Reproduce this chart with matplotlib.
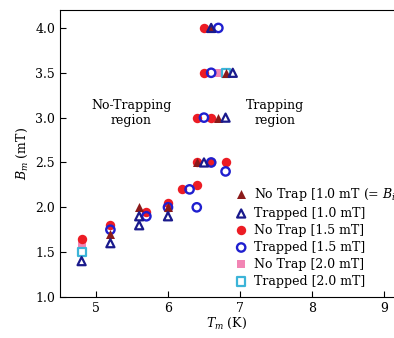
import matplotlib
matplotlib.use("Agg")
import matplotlib.pyplot as plt

plt.rcParams['font.family'] = 'DejaVu Serif'
plt.rcParams['mathtext.fontset'] = 'dejavuserif'

# No Trap [1.0 mT]
nt10_T = [6.6, 6.8, 6.7, 6.4, 5.6, 6.0, 5.2]
nt10_B = [4.0, 3.5, 3.0, 2.5, 2.0, 2.0, 1.7]
# Trapped [1.0 mT]
tr10_T = [6.6, 6.9, 6.8, 6.5, 5.6, 5.6, 6.0, 5.2, 4.8]
tr10_B = [4.0, 3.5, 3.0, 2.5, 1.9, 1.8, 1.9, 1.6, 1.4]
# No Trap [1.5 mT]
nt15_T = [6.5, 6.5, 6.4, 6.6, 6.4, 6.6, 6.8, 6.4, 6.2, 5.7, 6.0, 5.2, 4.8]
nt15_B = [4.0, 3.5, 3.0, 3.0, 2.5, 2.5, 2.5, 2.25, 2.2, 1.95, 2.05, 1.8, 1.65]
# Trapped [1.5 mT]
tr15_T = [6.7, 6.6, 6.5, 6.6, 6.8, 6.3, 6.4, 5.7, 6.0, 5.2]
tr15_B = [4.0, 3.5, 3.0, 2.5, 2.4, 2.2, 2.0, 1.9, 2.0, 1.75]
# No Trap [2.0 mT]
nt20_T = [6.7, 4.8]
nt20_B = [3.5, 1.6]
# Trapped [2.0 mT]
tr20_T = [6.8, 4.8]
tr20_B = [3.5, 1.5]

fig = plt.figure(figsize=(3.94, 3.38), dpi=100)
ax = fig.add_axes([0.1523, 0.1213, 0.8477, 0.8491])

ax.scatter(nt20_T, nt20_B, marker='s', s=40, color='#f285b4', linewidths=0, label='No Trap [2.0 mT]', zorder=2)
ax.scatter(tr20_T, tr20_B, marker='s', s=34, facecolors='none', edgecolors='#3cb4d8', linewidths=1.6, label='Trapped [2.0 mT]', zorder=2)
ax.scatter(nt15_T, nt15_B, marker='o', s=46, color='#ec1c24', linewidths=0, label='No Trap [1.5 mT]', zorder=3)
ax.scatter(tr15_T, tr15_B, marker='o', s=36, facecolors='none', edgecolors='#1f1fcf', linewidths=1.7, label='Trapped [1.5 mT]', zorder=4)
ax.scatter(nt10_T, nt10_B, marker='^', s=42, color='#8b1a1a', linewidths=0, label='No Trap [1.0 mT (= $B_i$)]', zorder=5)
ax.scatter(tr10_T, tr10_B, marker='^', s=34, facecolors='none', edgecolors='#1a1a8c', linewidths=1.6, label='Trapped [1.0 mT]', zorder=5)

ax.text(5.49, 3.05, 'No-Trapping\nregion', ha='center', va='center', fontsize=9, linespacing=1.15)
ax.text(7.49, 3.05, 'Trapping\nregion', ha='center', va='center', fontsize=9, linespacing=1.15)

ax.set_xlim(4.5, 9.14)
ax.set_ylim(1.0, 4.2)
ax.set_xticks([5, 6, 7, 8, 9])
ax.set_yticks([1.0, 1.5, 2.0, 2.5, 3.0, 3.5, 4.0])
ax.set_yticklabels(['1.0', '1.5', '2.0', '2.5', '3.0', '3.5', '4.0'])
ax.tick_params(direction='in', length=4, labelsize=9, width=0.8)
ax.spines['right'].set_visible(False)
ax.set_xlabel('$T_m$ (K)', fontsize=9, labelpad=1)
ax.set_ylabel('$B_m$ (mT)', fontsize=9, labelpad=4)

h, l = ax.get_legend_handles_labels()
order = [4, 5, 2, 3, 0, 1]
ax.legend([h[i] for i in order], [l[i] for i in order], loc='upper left',
          bbox_to_anchor=(0.505, 0.405), frameon=False, fontsize=9,
          handletextpad=0.4, labelspacing=0.32, borderaxespad=0, handlelength=1.2)

fig.savefig('out.png', dpi=100)
